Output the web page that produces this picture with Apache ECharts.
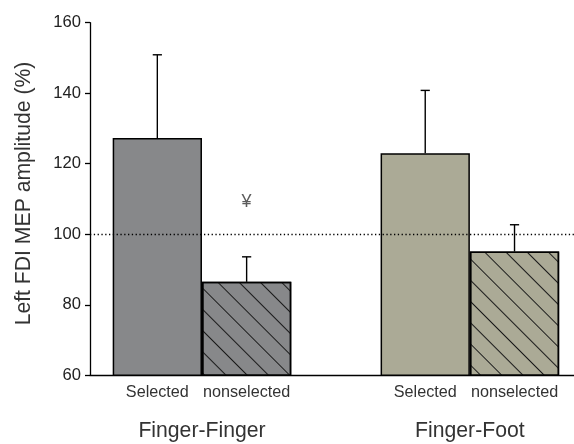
<!DOCTYPE html>
<html>
<head>
<meta charset="utf-8">
<script src="https://cdn.jsdelivr.net/npm/echarts@6/dist/echarts.min.js"></script>
<style>
html,body{margin:0;padding:0;background:#fff;}
#chart{width:574px;height:444px;}
</style>
</head>
<body>
<div id="chart"></div>
<script>
// ---- data ----
const groups = ['Finger-Finger', 'Finger-Foot'];
const conditions = ['Selected', 'nonselected'];
const meanFingerFinger = [127.3, 86.5];
const upperFingerFinger = [150.9, 93.6];
const meanFingerFoot = [123.0, 95.1];
const upperFingerFoot = [140.8, 102.7];
const significance = [['', '¥'], ['', '']];
const significanceLevel = 109;
const referenceLine = 100;
const yTicks = { min: 60, max: 160, interval: 20 };
const yTitle = 'Left FDI MEP amplitude (%)';

// ---- build ----
const means = [meanFingerFinger, meanFingerFoot];
const uppers = [upperFingerFinger, upperFingerFoot];
const groupColors = ['#87888a', '#abaa96'];
const hatch = {
  symbol: 'rect', symbolSize: 1, color: '#1a1a1a',
  dashArrayX: [1, 0], dashArrayY: [1, 13.7], rotation: Math.PI / 4
};
const slotOffset = 0.754;
const barData = [], errData = [], sigData = [], labelPos = [], labelNames = [], groupPos = [];
groups.forEach((g, gi) => {
  groupPos.push(gi * 3 + 0.5 + slotOffset);
  conditions.forEach((c, ci) => {
    const x = gi * 3 + ci + slotOffset;
    labelPos.push(x); labelNames.push(c);
    const itemStyle = { color: groupColors[gi], borderColor: '#000', borderWidth: 1.5 };
    if (ci === 1) itemStyle.decal = hatch;
    barData.push({ value: [x, means[gi][ci]], itemStyle });
    errData.push([x, means[gi][ci], uppers[gi][ci]]);
    if (significance[gi][ci]) sigData.push({ value: [x, significanceLevel], name: significance[gi][ci] });
  });
});
function nameAt(v, pos, names) {
  for (let i = 0; i < pos.length; i++) if (Math.abs(pos[i] - v) < 1e-6) return names[i];
  return '';
}
const xMax = 5.42;
const chart = echarts.init(document.getElementById('chart'), null, { renderer: 'canvas' });
chart.setOption({
  animation: false,
  backgroundColor: '#fff',
  textStyle: { fontFamily: 'Liberation Sans, Arial, sans-serif' },
  grid: { left: 90, right: 0, top: 22.7, bottom: 68.7 },
  xAxis: [{
    type: 'value', min: 0, max: xMax,
    axisLine: { show: true, lineStyle: { color: '#000', width: 1.3 } },
    axisTick: { show: false }, splitLine: { show: false },
    axisLabel: {
      customValues: labelPos, margin: 9, fontSize: 16.2, color: '#333',
      formatter: v => nameAt(v, labelPos, labelNames)
    }
  }, {
    type: 'value', min: 0, max: xMax, position: 'bottom',
    axisLine: { show: false }, axisTick: { show: false }, splitLine: { show: false },
    axisLabel: {
      customValues: groupPos, margin: 45, fontSize: 21.2, color: '#333',
      formatter: v => nameAt(v, groupPos, groups)
    }
  }],
  yAxis: {
    type: 'value', min: yTicks.min, max: yTicks.max, interval: yTicks.interval,
    name: yTitle, nameLocation: 'middle', nameGap: 55,
    nameTextStyle: { fontSize: 21.2, color: '#333', padding: [0, 0, 0, 11] },
    axisLine: { show: true, lineStyle: { color: '#000', width: 1.3 } },
    axisTick: { show: true, length: 5, lineStyle: { color: '#000', width: 1.3 } },
    axisLabel: { fontSize: 16.6, color: '#222', margin: 9 },
    splitLine: { show: false }
  },
  series: [{
    type: 'bar', barWidth: 89.3, data: barData,
    markLine: {
      silent: true, symbol: 'none', label: { show: false },
      lineStyle: { type: [1.3, 2.5], color: '#000', width: 1.3 },
      data: [{ yAxis: referenceLine }]
    }
  }, {
    type: 'custom', data: errData, encode: { x: 0, y: [1, 2] }, z: 3,
    renderItem: (params, api) => {
      const p0 = api.coord([api.value(0), api.value(1)]);
      const p1 = api.coord([api.value(0), api.value(2)]);
      const half = 4.6;
      const style = { stroke: '#000', lineWidth: 1.4 };
      return { type: 'group', children: [
        { type: 'line', shape: { x1: p0[0], y1: p0[1], x2: p1[0], y2: p1[1] }, style },
        { type: 'line', shape: { x1: p1[0] - half, y1: p1[1], x2: p1[0] + half, y2: p1[1] }, style }
      ] };
    }
  }, {
    type: 'scatter', symbolSize: 0, data: sigData, silent: true,
    label: { show: true, position: 'inside', formatter: p => p.name, fontSize: 18, color: '#333' }
  }]
});
</script>
</body>
</html>
